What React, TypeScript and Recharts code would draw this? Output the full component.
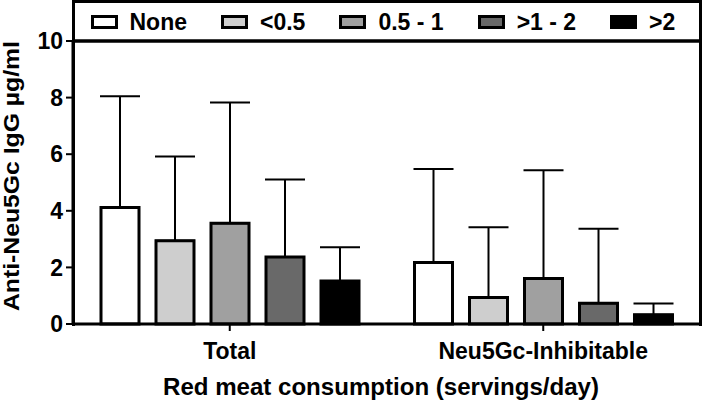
import {Bar, BarChart, ErrorBar, Legend, ReferenceLine, XAxis, YAxis} from "recharts";

const FONT = '"Liberation Sans", Arial, sans-serif';

const groups = ["Total", "Neu5Gc-Inhibitable"];
const servings = ["None", "<0.5", "0.5 - 1", ">1 - 2", ">2"];
const fills = ["#ffffff", "#cecece", "#a0a0a0", "#696969", "#000000"];

// mean and mean + SD
const totalMeans = [4.12, 2.94, 3.56, 2.37, 1.52];
const totalUpper = [8.05, 5.92, 7.83, 5.11, 2.71];
const inhibMeans = [2.17, 0.94, 1.61, 0.73, 0.33];
const inhibUpper = [5.48, 3.42, 5.43, 3.37, 0.72];

const yTicks = [0, 2, 4, 6, 8, 10];

const means = [totalMeans, inhibMeans];
const uppers = [totalUpper, inhibUpper];

const data = groups.map((group, g) => {
    const row: Record<string, string | number | number[]> = {group};
    servings.forEach((_, i) => {
        row[`v${i}`] = means[g][i];
        row[`e${i}`] = [0, +(uppers[g][i] - means[g][i]).toFixed(2)];
    });
    return row;
});

const textStyle = {fill: "#000", fontSize: 23, fontWeight: 700, fontFamily: FONT};

// legend drawn in series order, inside the framed box on top of the plot
function LegendBox() {
    return (
        <div
            style={{
                boxSizing: "border-box",
                width: 630,
                height: 326,
                borderTop: "3px solid #000",
                borderLeft: "3px solid #000",
                borderRight: "3px solid #000",
            }}
        >
            <div style={{display: "flex", alignItems: "center", height: 38, paddingLeft: 16}}>
                {servings.map((name, i) => (
                    <div key={name} style={{display: "flex", alignItems: "center", marginRight: 34, whiteSpace: "nowrap"}}>
                        <span
                            style={{
                                boxSizing: "border-box",
                                display: "inline-block",
                                width: 27,
                                height: 14,
                                border: "3px solid #000",
                                background: fills[i],
                                marginRight: 12,
                            }}
                        />
                        <span style={{fontFamily: FONT, fontWeight: 700, fontSize: 23, color: "#000", lineHeight: "24px"}}>
                            {name}
                        </span>
                    </div>
                ))}
            </div>
        </div>
    );
}

export default function App() {
    return (
        <div style={{position: "absolute", left: 0, top: 0, background: "#fff"}}>
            <BarChart
                width={702}
                height={402}
                data={data}
                margin={{top: 41, right: 2, bottom: 0, left: 0}}
                barSize={38}
                barGap={17}
            >
                <XAxis
                    dataKey="group"
                    height={78}
                    axisLine={{stroke: "#000", strokeWidth: 3}}
                    tickLine={{stroke: "#000", strokeWidth: 2}}
                    tickSize={7}
                    tickMargin={12}
                    tick={textStyle}
                    label={{
                        content: () => (
                            <text x={381} y={395} textAnchor="middle" textLength={436} lengthAdjust="spacingAndGlyphs" style={textStyle}>
                                Red meat consumption (servings/day)
                            </text>
                        ),
                    }}
                />
                <YAxis
                    width={73}
                    domain={[0, 10]}
                    ticks={yTicks}
                    interval={0}
                    axisLine={{stroke: "#000", strokeWidth: 3}}
                    tickLine={{stroke: "#000", strokeWidth: 2}}
                    tickSize={7}
                    tickMargin={3}
                    tick={textStyle}
                    label={{
                        content: () => (
                            <text
                                transform="translate(19,176) rotate(-90)"
                                textAnchor="middle"
                                textLength={270}
                                lengthAdjust="spacingAndGlyphs"
                                style={{...textStyle, fontSize: 22}}
                            >
                                Anti-Neu5Gc IgG µg/ml
                            </text>
                        ),
                    }}
                />
                <ReferenceLine y={10} stroke="#000" strokeWidth={3.5} />
                <Legend
                    layout="horizontal"
                    verticalAlign="middle"
                    align="center"
                    wrapperStyle={{top: 0, left: 71.5, width: 630, height: 326}}
                    content={() => <LegendBox />}
                />
                {servings.map((name, i) => (
                    <Bar
                        key={name}
                        dataKey={`v${i}`}
                        name={name}
                        fill={fills[i]}
                        stroke="#000"
                        strokeWidth={3}
                        isAnimationActive={false}
                    >
                        <ErrorBar dataKey={`e${i}`} width={20} stroke="#000" strokeWidth={2} />
                    </Bar>
                ))}
            </BarChart>
        </div>
    );
}
